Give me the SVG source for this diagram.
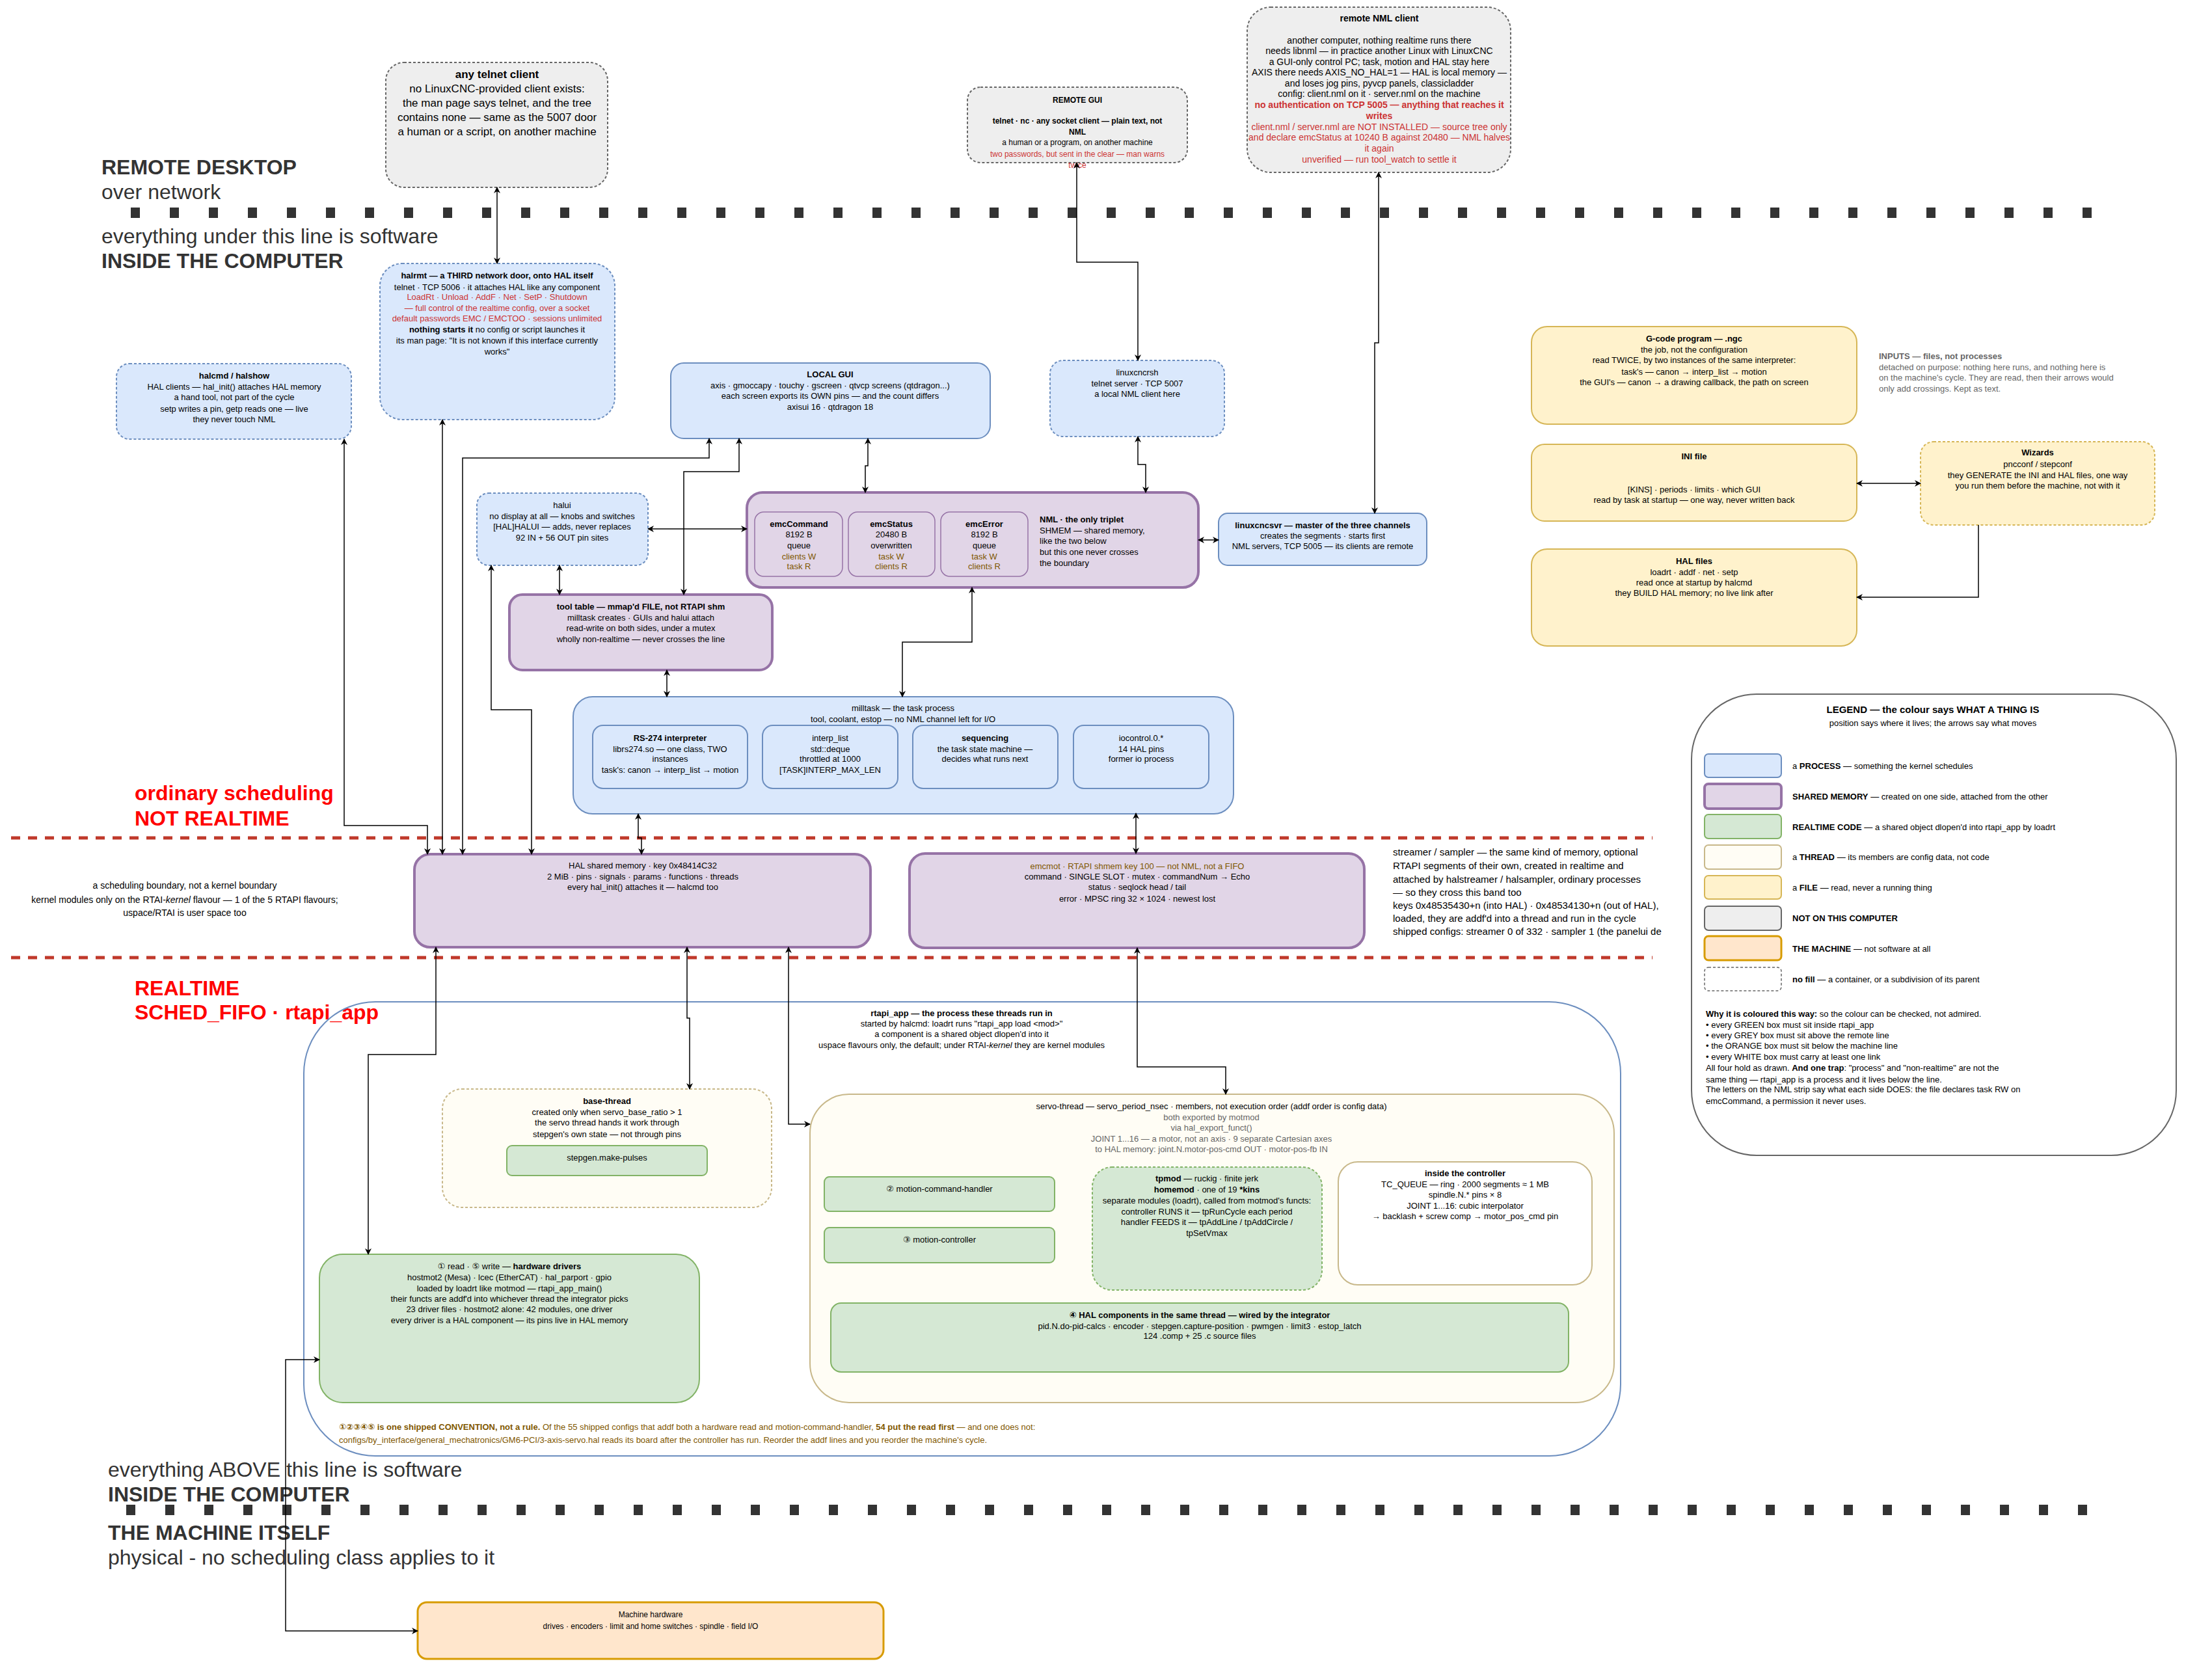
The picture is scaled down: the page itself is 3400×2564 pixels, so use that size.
<svg xmlns="http://www.w3.org/2000/svg" width="3400" height="2564" viewBox="0 0 3400 2564">
<defs>
<marker id="a" viewBox="0 0 10 10" refX="9" refY="5" markerWidth="10" markerHeight="10" markerUnits="userSpaceOnUse" orient="auto-start-reverse"><path d="M0,0 L10,5 L0,10 L3,5 z" fill="#000"/></marker>
<style>
text{font-family:"Liberation Sans","DejaVu Sans",sans-serif;font-size:13px;fill:#000}
.c{text-anchor:middle}
.b{font-weight:bold}
.r{fill:#cc3333}
.br{fill:#7f5700}
.g{fill:#666}
.big{font-size:32px;fill:#333}
.red{font-size:32px;fill:#ff0000;font-weight:bold}
.proc{fill:#dae8fc;stroke:#6c8ebf;stroke-width:2}
.procd{fill:#dae8fc;stroke:#6c8ebf;stroke-width:2;stroke-dasharray:4 3}
.shm{fill:#e1d5e7;stroke:#9673a6;stroke-width:4}
.cell{fill:#e1d5e7;stroke:#9673a6;stroke-width:1.5}
.rt{fill:#d5e8d4;stroke:#82b366;stroke-width:2}
.rtd{fill:#d5e8d4;stroke:#82b366;stroke-width:2;stroke-dasharray:4 3}
.thr{fill:#fffdf5;stroke:#c8b88a;stroke-width:2}
.thrd{fill:#fffdf5;stroke:#c8b88a;stroke-width:2;stroke-dasharray:4 3}
.file{fill:#fff2cc;stroke:#d6b656;stroke-width:2}
.filed{fill:#fff2cc;stroke:#d6b656;stroke-width:2;stroke-dasharray:4 3}
.grey{fill:#eeeeee;stroke:#666;stroke-width:2;stroke-dasharray:4 3}
.mach{fill:#ffe6cc;stroke:#d79b00;stroke-width:3}
.cn{fill:none;stroke:#000;stroke-width:1.5;marker-end:url(#a)}
.cb{fill:none;stroke:#000;stroke-width:1.5;marker-end:url(#a);marker-start:url(#a)}
.dot{stroke:#333;stroke-width:16;stroke-dasharray:14 46}
.rdash{stroke:#c0392b;stroke-width:5;stroke-dasharray:14 12}
</style>
</defs>
<rect width="3400" height="2564" fill="#fff"/>

<g id="bands">
<line class="dot" x1="201" y1="327" x2="3235" y2="327"/>
<line class="dot" x1="194" y1="2321" x2="3225" y2="2321"/>
<line class="rdash" x1="17" y1="1288" x2="2540" y2="1288"/>
<line class="rdash" x1="17" y1="1472" x2="2540" y2="1472"/>
<text class="big b" x="156" y="268">REMOTE DESKTOP</text>
<text class="big" x="156" y="306">over network</text>
<text class="big" x="156" y="374">everything under this line is software</text>
<text class="big b" x="156" y="412">INSIDE THE COMPUTER</text>
<text class="red" x="207" y="1230">ordinary scheduling</text>
<text class="red" x="207" y="1269">NOT REALTIME</text>
<text class="red" x="207" y="1530">REALTIME</text>
<text class="red" x="207" y="1567">SCHED_FIFO · rtapi_app</text>
<text class="big" x="166" y="2270">everything ABOVE this line is software</text>
<text class="big b" x="166" y="2308">INSIDE THE COMPUTER</text>
<text class="big b" x="166" y="2367">THE MACHINE ITSELF</text>
<text class="big" x="166" y="2405">physical - no scheduling class applies to it</text>
<g style="font-size:14px">
<text class="c" x="284" y="1366" style="font-size:14px">a scheduling boundary, not a kernel boundary</text>
<text class="c" x="284" y="1388" style="font-size:14px">kernel modules only on the RTAI-<tspan font-style="italic">kernel</tspan> flavour — 1 of the 5 RTAPI flavours;</text>
<text class="c" x="284" y="1408" style="font-size:14px">uspace/RTAI is user space too</text>
</g>
<g style="font-size:15px">
<text x="2141" y="1315" style="font-size:15px">streamer / sampler — the same kind of memory, optional</text>
<text x="2141" y="1336" style="font-size:15px">RTAPI segments of their own, created in realtime and</text>
<text x="2141" y="1357" style="font-size:15px">attached by halstreamer / halsampler, ordinary processes</text>
<text x="2141" y="1377" style="font-size:15px">— so they cross this band too</text>
<text x="2141" y="1397" style="font-size:15px">keys 0x48535430+n (into HAL) · 0x48534130+n (out of HAL),</text>
<text x="2141" y="1417" style="font-size:15px">loaded, they are addf'd into a thread and run in the cycle</text>
<text x="2141" y="1437" style="font-size:15px">shipped configs: streamer 0 of 332 · sampler 1 (the panelui de</text>
</g>
<text class="b g" x="2888" y="552">INPUTS — files, not processes</text>
<text class="g" x="2888" y="569">detached on purpose: nothing here runs, and nothing here is</text>
<text class="g" x="2888" y="585">on the machine's cycle. They are read, then their arrows would</text>
<text class="g" x="2888" y="602">only add crossings. Kept as text.</text>
</g>

<g id="rtapi_app">
<rect x="467" y="1540" width="2024" height="698" rx="110" fill="none" stroke="#6c8ebf" stroke-width="2"/>
<text class="c b" x="1478" y="1562">rtapi_app — the process these threads run in</text>
<text class="c" x="1478" y="1578">started by halcmd: loadrt runs "rtapi_app load &lt;mod&gt;"</text>
<text class="c" x="1478" y="1594">a component is a shared object dlopen'd into it</text>
<text class="c" x="1478" y="1611">uspace flavours only, the default; under RTAI-<tspan font-style="italic">kernel</tspan> they are kernel modules</text>
<text class="br" x="521" y="2198"><tspan class="b" style="font-weight:bold">①②③④⑤ is one shipped CONVENTION, not a rule.</tspan> Of the 55 shipped configs that addf both a hardware read and motion-command-handler, <tspan style="font-weight:bold">54 put the read first</tspan> — and one does not:</text>
<text class="br" x="521" y="2218">configs/by_interface/general_mechatronics/GM6-PCI/3-axis-servo.hal reads its board after the controller has run. Reorder the addf lines and you reorder the machine's cycle.</text>
</g>

<g id="telnet_client">
<rect class="grey" x="593" y="96" width="341" height="192" rx="28"/>
<g style="font-size:17px">
<text class="c b" x="764" y="120" style="font-size:17px">any telnet client</text>
<text class="c" x="764" y="142" style="font-size:17px">no LinuxCNC-provided client exists:</text>
<text class="c" x="764" y="164" style="font-size:17px">the man page says telnet, and the tree</text>
<text class="c" x="764" y="186" style="font-size:17px">contains none — same as the 5007 door</text>
<text class="c" x="764" y="208" style="font-size:17px">a human or a script, on another machine</text>
</g>
</g>

<g id="remote_gui">
<rect class="grey" x="1487" y="134" width="338" height="116" rx="20"/>
<text class="c b" x="1656" y="158" style="font-size:12px">REMOTE GUI</text>
<text class="c b" x="1656" y="190" style="font-size:12px">telnet · nc · any socket client — plain text, not</text>
<text class="c b" x="1656" y="207" style="font-size:12px">NML</text>
<text class="c" x="1656" y="223" style="font-size:12px">a human or a program, on another machine</text>
<text class="c r" x="1656" y="241" style="font-size:12px">two passwords, but sent in the clear — man warns</text>
<text class="c r" x="1656" y="258" style="font-size:12px">twice</text>
</g>

<g id="remote_nml">
<rect class="grey" x="1917" y="11" width="405" height="254" rx="36"/>
<g style="font-size:14px">
<text class="c b" x="2120" y="33" style="font-size:14px">remote NML client</text>
<text class="c" x="2120" y="67" style="font-size:14px">another computer, nothing realtime runs there</text>
<text class="c" x="2120" y="83" style="font-size:14px">needs libnml — in practice another Linux with LinuxCNC</text>
<text class="c" x="2120" y="100" style="font-size:14px">a GUI-only control PC; task, motion and HAL stay here</text>
<text class="c" x="2120" y="116" style="font-size:14px">AXIS there needs AXIS_NO_HAL=1 — HAL is local memory —</text>
<text class="c" x="2120" y="133" style="font-size:14px">and loses jog pins, pyvcp panels, classicladder</text>
<text class="c" x="2120" y="149" style="font-size:14px">config: client.nml on it · server.nml on the machine</text>
<text class="c b r" x="2120" y="166" style="font-size:14px">no authentication on TCP 5005 — anything that reaches it</text>
<text class="c b r" x="2120" y="183" style="font-size:14px">writes</text>
<text class="c r" x="2120" y="200" style="font-size:14px">client.nml / server.nml are NOT INSTALLED — source tree only</text>
<text class="c r" x="2120" y="216" style="font-size:14px">and declare emcStatus at 10240 B against 20480 — NML halves</text>
<text class="c r" x="2120" y="233" style="font-size:14px">it again</text>
<text class="c r" x="2120" y="250" style="font-size:14px">unverified — run tool_watch to settle it</text>
</g>
</g>

<g id="halrmt">
<rect class="procd" x="584" y="405" width="361" height="240" rx="34"/>
<text class="c b" x="764" y="428">halrmt — a THIRD network door, onto HAL itself</text>
<text class="c" x="764" y="446">telnet · TCP 5006 · it attaches HAL like any component</text>
<text class="c r" x="764" y="461">LoadRt · Unload · AddF · Net · SetP · Shutdown</text>
<text class="c r" x="764" y="478">— full control of the realtime config, over a socket</text>
<text class="c r" x="764" y="494">default passwords EMC / EMCTOO · sessions unlimited</text>
<text class="c" x="764" y="511"><tspan style="font-weight:bold">nothing starts it</tspan>  no config or script launches it</text>
<text class="c" x="764" y="528">its man page: "It is not known if this interface currently</text>
<text class="c" x="764" y="545">works"</text>
</g>

<g id="halcmd">
<rect class="procd" x="179" y="559" width="361" height="116" rx="20"/>
<text class="c b" x="360" y="582">halcmd / halshow</text>
<text class="c" x="360" y="599">HAL clients — hal_init() attaches HAL memory</text>
<text class="c" x="360" y="615">a hand tool, not part of the cycle</text>
<text class="c" x="360" y="633">setp writes a pin, getp reads one — live</text>
<text class="c" x="360" y="649">they never touch NML</text>
</g>

<g id="local_gui">
<rect class="proc" x="1031" y="558" width="491" height="116" rx="20"/>
<text class="c b" x="1276" y="580">LOCAL GUI</text>
<text class="c" x="1276" y="597">axis · gmoccapy · touchy · gscreen · qtvcp screens (qtdragon...)</text>
<text class="c" x="1276" y="613">each screen exports its OWN pins — and the count differs</text>
<text class="c" x="1276" y="630">axisui 16 · qtdragon 18</text>
</g>

<g id="linuxcncrsh">
<rect class="procd" x="1614" y="554" width="268" height="117" rx="20"/>
<text class="c" x="1748" y="577">linuxcncrsh</text>
<text class="c" x="1748" y="594">telnet server · TCP 5007</text>
<text class="c" x="1748" y="610">a local NML client here</text>
</g>

<g id="halui">
<rect class="procd" x="733" y="758" width="263" height="111" rx="18"/>
<text class="c" x="864" y="781">halui</text>
<text class="c" x="864" y="798">no display at all — knobs and switches</text>
<text class="c" x="864" y="814">[HAL]HALUI — adds, never replaces</text>
<text class="c" x="864" y="831">92 IN + 56 OUT pin sites</text>
</g>

<g id="nml">
<rect class="shm" x="1148" y="757" width="694" height="146" rx="24"/>
<rect class="cell" x="1160" y="787" width="135" height="99" rx="14"/>
<rect class="cell" x="1304" y="787" width="133" height="99" rx="14"/>
<rect class="cell" x="1446" y="787" width="134" height="99" rx="14"/>
<text class="c b" x="1228" y="810">emcCommand</text>
<text class="c" x="1228" y="826">8192 B</text>
<text class="c" x="1228" y="843">queue</text>
<text class="c br" x="1228" y="860">clients W</text>
<text class="c br" x="1228" y="875">task R</text>
<text class="c b" x="1370" y="810">emcStatus</text>
<text class="c" x="1370" y="826">20480 B</text>
<text class="c" x="1370" y="843">overwritten</text>
<text class="c br" x="1370" y="860">task W</text>
<text class="c br" x="1370" y="875">clients R</text>
<text class="c b" x="1513" y="810">emcError</text>
<text class="c" x="1513" y="826">8192 B</text>
<text class="c" x="1513" y="843">queue</text>
<text class="c br" x="1513" y="860">task W</text>
<text class="c br" x="1513" y="875">clients R</text>
<text class="b" x="1598" y="803">NML · the only triplet</text>
<text x="1598" y="820">SHMEM — shared memory,</text>
<text x="1598" y="836">like the two below</text>
<text x="1598" y="853">but this one never crosses</text>
<text x="1598" y="870">the boundary</text>
</g>

<g id="linuxcncsvr">
<rect class="proc" x="1873" y="789" width="320" height="80" rx="14"/>
<text class="c b" x="2033" y="812">linuxcncsvr — master of the three channels</text>
<text class="c" x="2033" y="828">creates the segments · starts first</text>
<text class="c" x="2033" y="844">NML servers, TCP 5005 — its clients are remote</text>
</g>

<g id="tool_table">
<rect class="shm" x="783" y="914" width="404" height="116" rx="20"/>
<text class="c b" x="985" y="937">tool table — mmap'd FILE, not RTAPI shm</text>
<text class="c" x="985" y="954">milltask creates · GUIs and halui attach</text>
<text class="c" x="985" y="970">read-write on both sides, under a mutex</text>
<text class="c" x="985" y="987">wholly non-realtime — never crosses the line</text>
</g>

<g id="milltask">
<rect class="proc" x="881" y="1071" width="1015" height="180" rx="30"/>
<text class="c" x="1388" y="1093">milltask — the task process</text>
<text class="c" x="1388" y="1110">tool, coolant, estop — no NML channel left for I/O</text>
<rect class="proc" x="911" y="1115" width="238" height="97" rx="16"/>
<rect class="proc" x="1172" y="1115" width="208" height="97" rx="16"/>
<rect class="proc" x="1403" y="1115" width="223" height="97" rx="16"/>
<rect class="proc" x="1650" y="1115" width="208" height="97" rx="16"/>
<text class="c b" x="1030" y="1139">RS-274 interpreter</text>
<text class="c" x="1030" y="1156">librs274.so — one class, TWO</text>
<text class="c" x="1030" y="1171">instances</text>
<text class="c" x="1030" y="1188">task's: canon → interp_list → motion</text>
<text class="c" x="1276" y="1139">interp_list</text>
<text class="c" x="1276" y="1156">std::deque</text>
<text class="c" x="1276" y="1171">throttled at 1000</text>
<text class="c" x="1276" y="1188">[TASK]INTERP_MAX_LEN</text>
<text class="c b" x="1514" y="1139">sequencing</text>
<text class="c" x="1514" y="1156">the task state machine —</text>
<text class="c" x="1514" y="1171">decides what runs next</text>
<text class="c" x="1754" y="1139">iocontrol.0.*</text>
<text class="c" x="1754" y="1156">14 HAL pins</text>
<text class="c" x="1754" y="1171">former io process</text>
</g>

<g id="gcode">
<rect class="file" x="2354" y="502" width="500" height="150" rx="24"/>
<text class="c b" x="2604" y="525">G-code program — .ngc</text>
<text class="c" x="2604" y="542">the job, not the configuration</text>
<text class="c" x="2604" y="558">read TWICE, by two instances of the same interpreter:</text>
<text class="c" x="2604" y="576">task's — canon → interp_list → motion</text>
<text class="c" x="2604" y="592">the GUI's — canon → a drawing callback, the path on screen</text>
</g>
<g id="ini">
<rect class="file" x="2354" y="683" width="500" height="118" rx="20"/>
<text class="c b" x="2604" y="706">INI file</text>
<text class="c" x="2604" y="757">[KINS] · periods · limits · which GUI</text>
<text class="c" x="2604" y="773">read by task at startup — one way, never written back</text>
</g>
<g id="wizards">
<rect class="filed" x="2952" y="679" width="360" height="128" rx="20"/>
<text class="c b" x="3132" y="700">Wizards</text>
<text class="c" x="3132" y="718">pncconf / stepconf</text>
<text class="c" x="3132" y="735">they GENERATE the INI and HAL files, one way</text>
<text class="c" x="3132" y="751">you run them before the machine, not with it</text>
</g>
<g id="hal_files">
<rect class="file" x="2354" y="844" width="500" height="149" rx="24"/>
<text class="c b" x="2604" y="867">HAL files</text>
<text class="c" x="2604" y="884">loadrt · addf · net · setp</text>
<text class="c" x="2604" y="900">read once at startup by halcmd</text>
<text class="c" x="2604" y="916">they BUILD HAL memory; no live link after</text>
</g>

<g id="hal_shm">
<rect class="shm" x="637" y="1313" width="701" height="143" rx="24"/>
<text class="c" x="988" y="1335">HAL shared memory · key 0x48414C32</text>
<text class="c" x="988" y="1352">2 MiB · pins · signals · params · functions · threads</text>
<text class="c" x="988" y="1368">every hal_init() attaches it — halcmd too</text>
</g>
<g id="emcmot">
<rect class="shm" x="1398" y="1312" width="699" height="145" rx="24"/>
<text class="c br" x="1748" y="1336">emcmot · RTAPI shmem key 100 — not NML, not a FIFO</text>
<text class="c" x="1748" y="1352">command · SINGLE SLOT · mutex · commandNum → Echo</text>
<text class="c" x="1748" y="1368">status · seqlock head / tail</text>
<text class="c" x="1748" y="1386">error · MPSC ring 32 × 1024 · newest lost</text>
</g>

<g id="base_thread">
<rect class="thrd" x="680" y="1674" width="506" height="182" rx="30"/>
<text class="c b" x="933" y="1697">base-thread</text>
<text class="c" x="933" y="1714">created only when servo_base_ratio &gt; 1</text>
<text class="c" x="933" y="1730">the servo thread hands it work through</text>
<text class="c" x="933" y="1748">stepgen's own state — not through pins</text>
<rect class="rt" x="779" y="1761" width="308" height="46" rx="8"/>
<text class="c" x="933" y="1784">stepgen.make-pulses</text>
</g>

<g id="drivers">
<rect class="rt" x="491" y="1928" width="584" height="228" rx="36"/>
<text class="c" x="783" y="1951">① read · ⑤ write — <tspan style="font-weight:bold">hardware drivers</tspan></text>
<text class="c" x="783" y="1968">hostmot2 (Mesa) · lcec (EtherCAT) · hal_parport · gpio</text>
<text class="c" x="783" y="1985">loaded by loadrt like motmod — rtapi_app_main()</text>
<text class="c" x="783" y="2001">their functs are addf'd into whichever thread the integrator picks</text>
<text class="c" x="783" y="2017">23 driver files · hostmot2 alone: 42 modules, one driver</text>
<text class="c" x="783" y="2034">every driver is a HAL component — its pins live in HAL memory</text>
</g>

<g id="servo_thread">
<rect class="thr" x="1245" y="1682" width="1236" height="474" rx="60"/>
<text class="c" x="1862" y="1705">servo-thread — servo_period_nsec · members, not execution order (addf order is config data)</text>
<text class="c g" x="1862" y="1722">both exported by motmod</text>
<text class="c g" x="1862" y="1738">via hal_export_funct()</text>
<text class="c g" x="1862" y="1755">JOINT 1...16 — a motor, not an axis · 9 separate Cartesian axes</text>
<text class="c g" x="1862" y="1771">to HAL memory: joint.N.motor-pos-cmd OUT · motor-pos-fb IN</text>
<rect class="rt" x="1267" y="1809" width="354" height="53" rx="8"/>
<text class="c" x="1444" y="1832">② motion-command-handler</text>
<rect class="rt" x="1267" y="1887" width="354" height="54" rx="8"/>
<text class="c" x="1444" y="1910">③ motion-controller</text>
<rect class="rtd" x="1679" y="1794" width="353" height="189" rx="30"/>
<text class="c" x="1855" y="1816"><tspan style="font-weight:bold">tpmod</tspan> — ruckig · finite jerk</text>
<text class="c" x="1855" y="1833"><tspan style="font-weight:bold">homemod</tspan> · one of 19 <tspan style="font-weight:bold">*kins</tspan></text>
<text class="c" x="1855" y="1850">separate modules (loadrt), called from motmod's functs:</text>
<text class="c" x="1855" y="1867">controller RUNS it — tpRunCycle each period</text>
<text class="c" x="1855" y="1883">handler FEEDS it — tpAddLine / tpAddCircle /</text>
<text class="c" x="1855" y="1900">tpSetVmax</text>
<rect x="2057" y="1786" width="390" height="189" rx="30" fill="#fff" stroke="#c8b88a" stroke-width="2"/>
<text class="c b" x="2252" y="1808">inside the controller</text>
<text class="c" x="2252" y="1825">TC_QUEUE — ring · 2000 segments ≈ 1 MB</text>
<text class="c" x="2252" y="1841">spindle.N.* pins × 8</text>
<text class="c" x="2252" y="1858">JOINT 1...16: cubic interpolator</text>
<text class="c" x="2252" y="1874">→ backlash + screw comp → motor_pos_cmd pin</text>
<rect class="rt" x="1277" y="2003" width="1134" height="106" rx="16"/>
<text class="c b" x="1844" y="2026">④ HAL components in the same thread — wired by the integrator</text>
<text class="c" x="1844" y="2043">pid.N.do-pid-calcs · encoder · stepgen.capture-position · pwmgen · limit3 · estop_latch</text>
<text class="c" x="1844" y="2058">124 .comp + 25 .c source files</text>
</g>

<g id="machine">
<rect class="mach" x="642" y="2463" width="716" height="87" rx="14"/>
<text class="c" x="1000" y="2486" style="font-size:12px">Machine hardware</text>
<text class="c" x="1000" y="2504" style="font-size:12px">drives · encoders · limit and home switches · spindle · field I/O</text>
</g>

<g id="connectors">
<path class="cb" d="M764,288 V405"/>
<path class="cb" d="M1655,250 V403 H1749 V554"/>
<path class="cb" d="M2119,265 V527 H2113 V789"/>
<path class="cb" d="M1842,830 H1873"/>
<path class="cb" d="M2952,743 H2854"/>
<path class="cn" d="M3041,807 V918 H2854"/>
<path class="cb" d="M529,675 V1269 H657 V1313"/>
<path class="cb" d="M680,645 V1313"/>
<path class="cb" d="M1090,674 V704 H711 V1313"/>
<path class="cb" d="M1136,674 V725 H1051 V914"/>
<path class="cb" d="M1334,674 V716 H1330 V757"/>
<path class="cb" d="M1749,671 V714 H1761 V757"/>
<path class="cb" d="M996,813 H1148"/>
<path class="cb" d="M860,869 V914"/>
<path class="cb" d="M755,869 V1091 H817 V1313"/>
<path class="cb" d="M1025,1030 V1071"/>
<path class="cb" d="M1494,903 V987 H1387 V1071"/>
<path class="cb" d="M981,1251 V1288 H986 V1313"/>
<path class="cb" d="M1746,1250 V1312"/>
<path class="cb" d="M670,1456 V1621 H566 V1928"/>
<path class="cb" d="M1056,1456 V1565 H1060 V1674"/>
<path class="cb" d="M1212,1456 V1728 H1245"/>
<path class="cb" d="M1748,1457 V1640 H1884 V1682"/>
<path class="cb" d="M491,2090 H439 V2507 H642"/>
</g>

<g id="legend">
<rect x="2600" y="1067" width="745" height="709" rx="100" fill="#fff" stroke="#666" stroke-width="2"/>
<text class="c b" x="2971" y="1096" style="font-size:15px">LEGEND — the colour says WHAT A THING IS</text>
<text class="c" x="2971" y="1116">position says where it lives; the arrows say what moves</text>
<rect class="proc" x="2620" y="1159" width="118" height="36" rx="6"/>
<rect class="shm" x="2620" y="1205" width="118" height="38" rx="6"/>
<rect class="rt" x="2620" y="1252" width="118" height="37" rx="6"/>
<rect class="thr" x="2620" y="1299" width="118" height="37" rx="6"/>
<rect class="file" x="2620" y="1346" width="118" height="36" rx="6"/>
<rect x="2620" y="1393" width="118" height="37" rx="6" fill="#eeeeee" stroke="#666" stroke-width="2"/>
<rect class="mach" x="2620" y="1439" width="118" height="37" rx="6"/>
<rect x="2620" y="1487" width="118" height="36" rx="6" fill="none" stroke="#666" stroke-width="1.5" stroke-dasharray="4 3"/>
<text x="2755" y="1182">a <tspan style="font-weight:bold">PROCESS</tspan> — something the kernel schedules</text>
<text x="2755" y="1229"><tspan style="font-weight:bold">SHARED MEMORY</tspan> — created on one side, attached from the other</text>
<text x="2755" y="1276"><tspan style="font-weight:bold">REALTIME CODE</tspan> — a shared object dlopen'd into rtapi_app by loadrt</text>
<text x="2755" y="1322">a <tspan style="font-weight:bold">THREAD</tspan> — its members are config data, not code</text>
<text x="2755" y="1369">a <tspan style="font-weight:bold">FILE</tspan> — read, never a running thing</text>
<text x="2755" y="1416" class="b">NOT ON THIS COMPUTER</text>
<text x="2755" y="1463"><tspan style="font-weight:bold">THE MACHINE</tspan> — not software at all</text>
<text x="2755" y="1510"><tspan style="font-weight:bold">no fill</tspan> — a container, or a subdivision of its parent</text>
<text x="2622" y="1563"><tspan style="font-weight:bold">Why it is coloured this way:</tspan> so the colour can be checked, not admired.</text>
<text x="2622" y="1580">• every GREEN box must sit inside rtapi_app</text>
<text x="2622" y="1596">• every GREY box must sit above the remote line</text>
<text x="2622" y="1612">• the ORANGE box must sit below the machine line</text>
<text x="2622" y="1629">• every WHITE box must carry at least one link</text>
<text x="2622" y="1646">All four hold as drawn. <tspan style="font-weight:bold">And one trap</tspan>: "process" and "non-realtime" are not the</text>
<text x="2622" y="1664">same thing — rtapi_app is a process and it lives below the line.</text>
<text x="2622" y="1679">The letters on the NML strip say what each side DOES: the file declares task RW on</text>
<text x="2622" y="1697">emcCommand, a permission it never uses.</text>
</g>
</svg>
